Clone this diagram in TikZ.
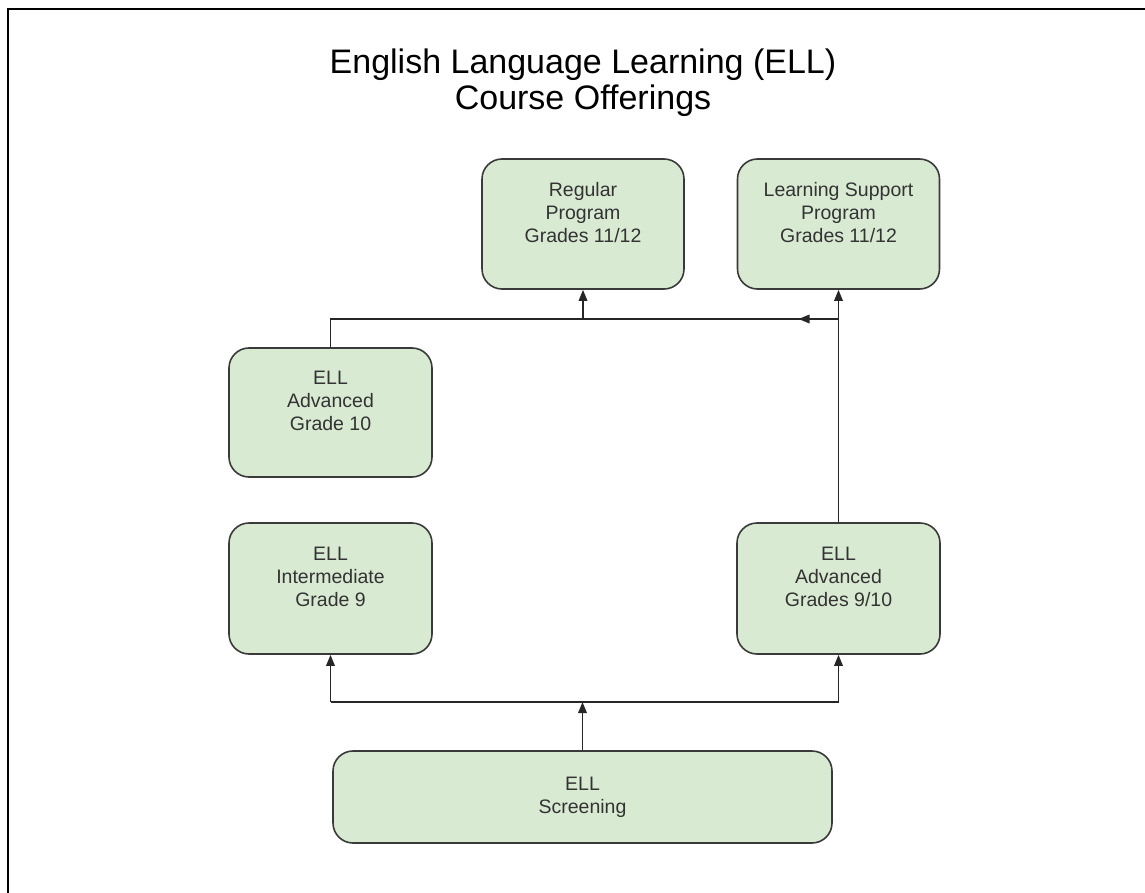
\documentclass[tikz,border=0pt]{standalone}
\usepackage{fontspec}
\setmainfont{Liberation Sans}
\usetikzlibrary{arrows.meta}
\definecolor{boxfill}{HTML}{D9EAD3}
\definecolor{boxline}{HTML}{3A3A3A}
\definecolor{boxtext}{HTML}{333333}
\tikzset{
  course/.style={draw=boxline, line width=1.6pt, fill=boxfill, rounded corners=20pt,
    text=boxtext, align=center, inner sep=0pt,
    font=\fontsize{19.5}{23}\selectfont},
  conn/.style={draw=black!85, line width=1.7pt},
  arr/.style={conn, -{Triangle[length=11pt,width=8.5pt]}},
}
\begin{document}
\begin{tikzpicture}[x=1pt,y=-1pt]
\useasboundingbox (0,0) rectangle (1145,893);
\draw[line width=2pt, black] (1145,9) -- (8,9) -- (8,893);
\node[font=\fontsize{34}{36}\selectfont, align=center, text=black] (title) at (583,83)
  {English Language Learning (ELL)\\Course Offerings};
\node[course, minimum width=202pt, minimum height=130pt] (reg) at (583,224) {Regular\\Program\\Grades 11/12\\\mbox{}};
\node[course, minimum width=202pt, minimum height=130pt] (ls) at (838.5,224) {Learning Support\\Program\\Grades 11/12\\\mbox{}};
\node[course, minimum width=203pt, minimum height=129pt] (g10) at (330.5,412.5) {ELL\\Advanced\\Grade 10\\\mbox{}};
\node[course, minimum width=203pt, minimum height=131pt] (g9) at (330.5,588.5) {ELL\\Intermediate\\Grade 9\\\mbox{}};
\node[course, minimum width=203pt, minimum height=131pt] (a910) at (838.5,588.5) {ELL\\Advanced\\Grades 9/10\\\mbox{}};
\node[course, minimum width=499pt, minimum height=92pt] (scr) at (582.5,797) {ELL\\Screening};
\coordinate (tl) at (330.5,319);
\coordinate (tr) at (838.5,319);
\draw[conn] (g10.north) -- (tl) -- (tr);
\draw[arr] (reg.south |- tl) -- (reg.south);
\draw[arr] (a910.north) -- (ls.south);
\draw[arr] (tr) -- ++(-40,0);
\coordinate (bl) at (330.5,702);
\coordinate (br) at (838.5,702);
\draw[conn] (bl) -- (br);
\draw[arr] (bl) -- (g9.south);
\draw[arr] (br) -- (a910.south);
\draw[arr] (scr.north) -- (scr.north |- bl);
\end{tikzpicture}
\end{document}
